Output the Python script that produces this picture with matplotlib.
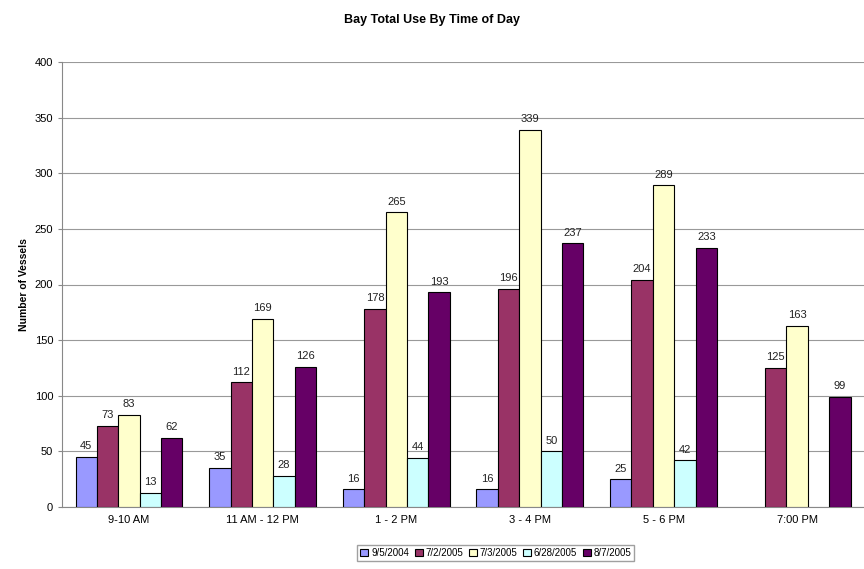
import numpy as np
import matplotlib
matplotlib.use("Agg")
import matplotlib.pyplot as plt

categories = ["9-10 AM", "11 AM - 12 PM", "1 - 2 PM", "3 - 4 PM", "5 - 6 PM", "7:00 PM"]
series_names = ["9/5/2004", "7/2/2005", "7/3/2005", "6/28/2005", "8/7/2005"]
s_9_5_2004 = [45, 35, 16, 16, 25, None]
s_7_2_2005 = [73, 112, 178, 196, 204, 125]
s_7_3_2005 = [83, 169, 265, 339, 289, 163]
s_6_28_2005 = [13, 28, 44, 50, 42, None]
s_8_7_2005 = [62, 126, 193, 237, 233, 99]
series = [s_9_5_2004, s_7_2_2005, s_7_3_2005, s_6_28_2005, s_8_7_2005]
colors = ["#9999FF", "#993366", "#FFFFCC", "#CCFFFF", "#660066"]

plt.rcParams['font.family'] = ['Liberation Sans', 'DejaVu Sans']
fig = plt.figure(figsize=(8.64, 5.69), dpi=100)
ax = fig.add_axes([0.072, 0.109, 0.928, 0.782])

x = np.arange(len(categories))
w = 0.16
for i, (name, vals, c) in enumerate(zip(series_names, series, colors)):
    xs = [xi + (i - 2) * w for xi, v in zip(x, vals) if v is not None]
    vs = [v for v in vals if v is not None]
    bars = ax.bar(xs, vs, width=w, color=c, edgecolor="black", linewidth=0.8, label=name, zorder=3)
    for b, v in zip(bars, vs):
        ax.text(b.get_x() + b.get_width() / 2, v + 5, str(v), ha="center", va="bottom",
                fontsize=8, color="#222222")

ax.set_xlim(-0.5, len(categories) - 0.5)
ax.set_ylim(0, 400)
ax.set_yticks(range(0, 401, 50))
ax.set_xticks(x)
ax.set_xticklabels(categories, fontsize=8)
ax.tick_params(axis='y', labelsize=8, length=3, color="#888888")
ax.tick_params(axis='x', length=0, pad=6)
ax.yaxis.grid(True, color="#999999", linewidth=0.8, zorder=0)
for s in ["top", "right"]:
    ax.spines[s].set_visible(False)
ax.spines["left"].set_color("#888888")
ax.spines["bottom"].set_color("#888888")
ax.set_ylabel("Number of Vessels", fontsize=7.5, fontweight="bold")
fig.suptitle("Bay Total Use By Time of Day", fontsize=9, fontweight="bold", y=0.975)

leg = fig.legend(loc="center", bbox_to_anchor=(0.574, 0.028), ncol=5, fontsize=7,
                 frameon=True, fancybox=False, edgecolor="#888888", handlelength=0.8,
                 handletextpad=0.3, columnspacing=0.6, borderpad=0.3)

fig.savefig("out.png", dpi=100)
